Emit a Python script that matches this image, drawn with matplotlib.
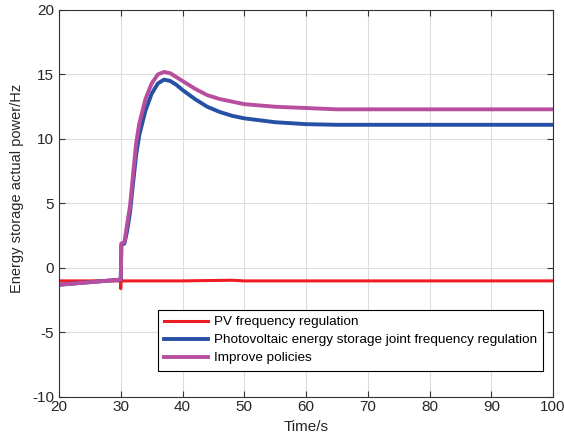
import matplotlib.pyplot as plt

plt.rcParams['font.family'] = ['Liberation Sans', 'DejaVu Sans']
plt.rcParams['axes.unicode_minus'] = False

# Time points and power readings for each control strategy
t_pv = [20, 29.95, 30.0, 30.05, 30.2, 40, 48, 50, 100]
p_pv = [-1.0, -1.0, -1.6, -0.7, -1.0, -1.0, -0.95, -1.0, -1.0]

t_joint = [20, 30.0, 30.1, 30.6, 31, 31.5, 32, 32.5, 33, 34, 35, 36, 37,
           38, 39, 40, 42, 44, 46, 48, 50, 55, 60, 65, 100]
p_joint = [-1.3, -0.9, 1.8, 1.9, 2.8, 4.3, 6.6, 8.8, 10.3, 12.2, 13.5, 14.3, 14.6,
           14.5, 14.2, 13.8, 13.1, 12.5, 12.1, 11.8, 11.6, 11.3, 11.15, 11.1, 11.1]

t_improve = [20, 30.0, 30.1, 30.6, 31, 31.5, 32, 32.5, 33, 34, 35, 36, 37,
             38, 39, 40, 42, 44, 46, 48, 50, 55, 60, 65, 70, 100]
p_improve = [-1.3, -0.9, 1.9, 2.0, 3.3, 4.8, 7.3, 9.7, 11.2, 13.1, 14.3, 15.0, 15.2,
             15.1, 14.8, 14.5, 13.9, 13.4, 13.1, 12.9, 12.7, 12.5, 12.4, 12.3, 12.3, 12.3]

fig = plt.figure(figsize=(5.64, 4.46), dpi=100)
ax = fig.add_axes([0.1046, 0.1099, 0.876, 0.8677])

ax.plot(t_pv, p_pv, color='#ee1c25', lw=2.2, label='PV frequency regulation')
ax.plot(t_joint, p_joint, color='#2650a3', lw=2.8,
        label='Photovoltaic energy storage joint frequency regulation')
ax.plot(t_improve, p_improve, color='#b84f9e', lw=2.8, label='Improve policies')

ax.set_xlim(20, 100)
ax.set_ylim(-10, 20)
ax.set_xticks(range(20, 101, 10))
ax.set_yticks(range(-10, 21, 5))
ax.grid(True, color='#dddddd', lw=0.8)
ax.tick_params(direction='in', top=True, right=True, labelsize=11, length=4,
               color='#333333', labelcolor='#262626')
ax.tick_params(axis='x', pad=2.5)
for s in ax.spines.values():
    s.set_color('#333333')
    s.set_linewidth(0.8)

ax.set_xlabel('Time/s', fontsize=11, labelpad=4, color='#262626')
ax.set_ylabel('Energy storage actual power/Hz', fontsize=10.5, color='#262626')
ax.yaxis.set_label_coords(-0.07, 0.54)

leg = ax.legend(loc='lower left', bbox_to_anchor=(0.182, 0.044), fontsize=9.7,
                frameon=True, fancybox=False, edgecolor='black', framealpha=1,
                handlelength=3.2, handletextpad=0.45, borderpad=0.45, labelspacing=0.42,
                borderaxespad=0.7)
leg.get_frame().set_linewidth(0.8)

fig.savefig('out.png', dpi=100)
